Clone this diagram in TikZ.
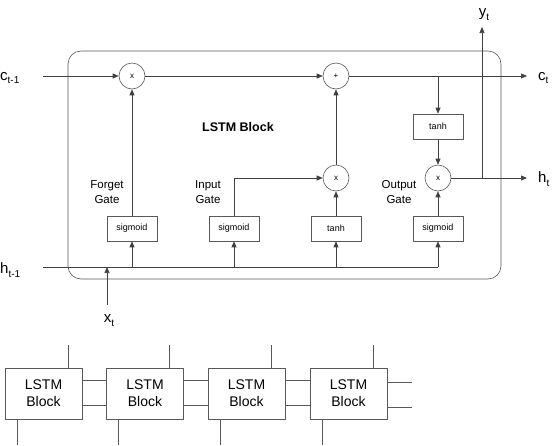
\documentclass[tikz,border=0pt]{standalone}
\usepackage{fontspec}
\setmainfont{Liberation Sans}
\usetikzlibrary{arrows.meta}
\newcommand\sbs[1]{\raisebox{-0.5ex}{\fontsize{10}{10}\selectfont #1}}
\tikzset{
  ln/.style={draw=black!75, line width=0.7pt},
  arr/.style={ln, -{Triangle[length=6pt,width=5pt]}},
  op/.style={circle, draw=black!65, line width=0.6pt, minimum size=26pt, inner sep=0pt, font=\fontsize{8}{8}\selectfont},
  fn/.style={rectangle, draw=black!65, line width=0.6pt, minimum width=50pt, minimum height=25pt, inner sep=0pt, font=\fontsize{9}{9}\selectfont},
  lbl/.style={inner sep=0pt, font=\fontsize{15}{15}\selectfont},
  gate/.style={inner sep=0pt, align=center, font=\fontsize{11.5}{14.5}\selectfont},
  blk/.style={rectangle, draw=black!65, line width=0.6pt, minimum width=77pt, minimum height=51pt, inner sep=0pt, align=center, font=\fontsize{14}{17}\selectfont},
}
\begin{document}
\begin{tikzpicture}[x=1pt,y=-1pt]
\useasboundingbox (0,0) rectangle (552,445);
% outer block
\draw[draw=black!65, line width=0.6pt, rounded corners=13pt] (68,51) rectangle (501,279);
\node[font=\bfseries\fontsize{12.5}{12.5}\selectfont, inner sep=0pt] (title) at (238,127) {LSTM Block};
% cell line
\coordinate (cs) at (43,76);
\node[lbl, anchor=west] (cin) at (0,78) {c\sbs{t-1}};
\node[op] (fx) at (132,76) {x};
\node[op] (pl) at (336,76) {+};
\coordinate (ce) at (527,76);
\node[lbl, anchor=west] (cout) at (538,78) {c\sbs{t}};
\draw[arr] (cs) -- (fx);
\draw[arr] (fx) -- (pl);
\draw[arr] (pl) -- (ce);
% tanh of cell
\node[fn] (th1) at (438,126.5) {tanh};
\coordinate (cb) at (438,76);
\draw[arr] (cb) -- (th1);
\node[op] (ox) at (438,178) {x};
\draw[arr] (th1) -- (ox);
% input multiply
\node[op] (ix) at (336,178) {x};
\draw[arr] (ix) -- (pl);
% output
\coordinate (he) at (527,178);
\node[lbl, anchor=west] (hout) at (538,179) {h\sbs{t}};
\draw[arr] (ox) -- (he);
\coordinate (yb) at (482,178);
\coordinate (ye) at (482,27);
\draw[arr] (yb) -- (ye);
\node[lbl] (yout) at (484,15) {y\sbs{t}};
% gate boxes
\node[fn] (s1) at (132,228.5) {sigmoid};
\node[fn] (s2) at (234,228.5) {sigmoid};
\node[fn] (th2) at (336,228.5) {tanh};
\node[fn] (s3) at (438,228.5) {sigmoid};
\node[gate] (fg) at (107,192) {Forget\\Gate};
\node[gate] (ig) at (208,192) {Input\\Gate};
\node[gate] (og) at (399,192) {Output\\Gate};
\draw[arr] (s1) -- (fx);
\draw[arr] (s2.north) |- (ix);
\draw[arr] (th2) -- (ix);
\draw[arr] (s3) -- (ox);
% h line
\coordinate (hs) at (43,267);
\node[lbl, anchor=west] (hin) at (0,270) {h\sbs{t-1}};
\coordinate (hc) at (438,267);
\draw[ln] (hs) -- (hc);
\draw[arr] (hc) -- (s3);
\draw[arr] (s1 |- hs) -- (s1);
\draw[arr] (s2 |- hs) -- (s2);
\draw[arr] (th2 |- hs) -- (th2);
% x input
\coordinate (xs) at (107,305);
\coordinate (xe) at (107,267);
\draw[arr] (xs) -- (xe);
\node[lbl] (xin) at (109,321) {x\sbs{t}};
% chain of blocks
\node[blk] (b1) at (43.5,393.5) {LSTM\\Block};
\node[blk] (b2) at (145,393.5) {LSTM\\Block};
\node[blk] (b3) at (246.5,393.5) {LSTM\\Block};
\node[blk] (b4) at (348.5,393.5) {LSTM\\Block};
\foreach \a/\b in {b1/b2,b2/b3,b3/b4}{
  \draw[draw=black!65, line width=0.6pt] ([yshift=-11.5pt]\a.east) -- ([yshift=-11.5pt]\b.west);
  \draw[draw=black!65, line width=0.6pt] ([yshift=13.5pt]\a.east) -- ([yshift=13.5pt]\b.west);
}
\coordinate (r1) at (412,382);
\coordinate (r2) at (412,407);
\draw[draw=black!65, line width=0.6pt] (b4.east |- r1) -- (r1);
\draw[draw=black!65, line width=0.6pt] (b4.east |- r2) -- (r2);
\foreach \b in {b1,b2,b3,b4}{
  \draw[draw=black!65, line width=0.6pt] ([xshift=24.5pt]\b.north) -- ++(0,-23);
  \draw[draw=black!65, line width=0.6pt] ([xshift=-26.5pt]\b.south) -- ++(0,26);
}
\end{tikzpicture}
\end{document}
